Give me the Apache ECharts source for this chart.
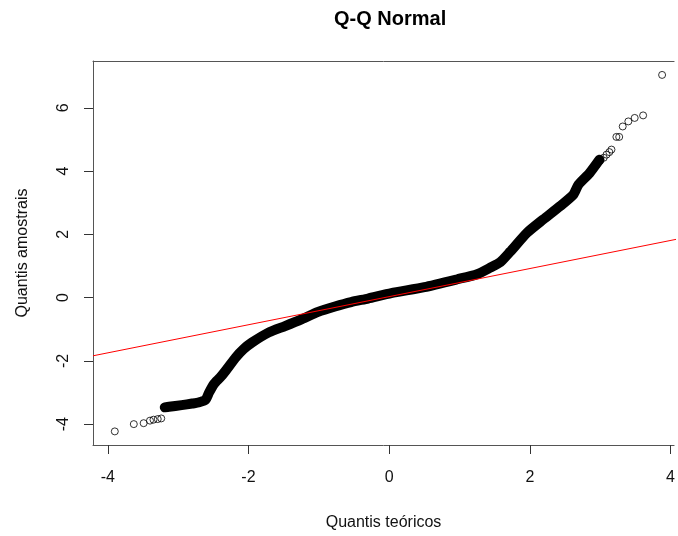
<!DOCTYPE html>
<html>
<head>
<meta charset="utf-8">
<script src="https://cdn.jsdelivr.net/npm/echarts@6/dist/echarts.min.js"></script>
<style>
html,body{margin:0;padding:0;background:#fff;}
#chart{width:678px;height:536px;}
</style>
</head>
<body>
<div id="chart"></div>
<script>
// Dense band of points (theoretical quantile, sample quantile)
const bandX = [-3.19,-3.13,-2.95,-2.80,-2.70,-2.61,-2.56,-2.49,-2.40,-2.32,-2.18,-2.07,-1.95,-1.71,-1.48,-1.24,-1.01,-0.77,-0.54,-0.30,0.03,0.50,0.97,1.25,1.44,1.58,1.72,1.96,2.19,2.43,2.62,2.69,2.85,2.99];
const bandY = [-3.47,-3.45,-3.40,-3.35,-3.31,-3.23,-3.00,-2.73,-2.52,-2.30,-1.89,-1.63,-1.42,-1.10,-0.90,-0.68,-0.45,-0.28,-0.14,-0.03,0.14,0.33,0.58,0.74,0.95,1.12,1.45,2.05,2.47,2.89,3.26,3.57,3.94,4.36];

// Individually visible points (tails)
const tailX = [-3.90,-3.63,-3.49,-3.40,-3.35,-3.29,-3.24,-3.19,-3.14,2.85,2.90,2.95,3.00,3.05,3.09,3.13,3.16,3.23,3.27,3.32,3.40,3.49,3.61,3.88];
const tailY = [-4.23,-4.00,-3.97,-3.89,-3.86,-3.84,-3.82,-3.47,-3.45,3.94,4.05,4.20,4.33,4.42,4.52,4.60,4.68,5.08,5.08,5.41,5.57,5.68,5.76,7.04];

// Reference line (qqline) endpoints
const refX = [-4.21, 4.21];
const refY = [-1.84, 1.90];

const xTicks = [-4,-2,0,2,4];
const yTicks = [-4,-2,0,2,4,6];

const zip = (a,b) => a.map((v,i) => [v,b[i]]);
const font = 'Liberation Sans, Arial, sans-serif';
const XMIN = -4.21, XMAX = 4.05;
const boxLine = {show:true, onZero:false, lineStyle:{color:'#555', width:1}};

const chart = echarts.init(document.getElementById('chart'), null, {renderer:'canvas'});
chart.setOption({
  backgroundColor:'#fff',
  animation:false,
  title:{
    text:'Q-Q Normal', left:329, top:4,
    textStyle:{fontFamily:font, fontSize:20, fontWeight:'bold', color:'#000'}
  },
  grid:{left:93, top:61, bottom:90, right:0, show:false},
  xAxis:[{
    type:'value', min:XMIN, max:XMAX, position:'bottom',
    name:'Quantis teóricos', nameLocation:'middle', nameGap:70,
    nameTextStyle:{fontFamily:font, fontSize:16, color:'#111'},
    axisLine:boxLine,
    splitLine:{show:false},
    axisTick:{show:true, inside:false, length:9, customValues:xTicks, lineStyle:{color:'#333'}},
    axisLabel:{customValues:xTicks, fontFamily:font, fontSize:16, color:'#111', margin:25, showMaxLabel:true}
  },{
    type:'value', min:XMIN, max:XMAX, position:'top',
    axisLine:boxLine, axisTick:{show:false}, axisLabel:{show:false}, splitLine:{show:false}
  }],
  yAxis:{
    type:'value', min:-4.66, max:7.48, position:'left',
    name:'Quantis amostrais', nameLocation:'middle', nameGap:62, nameRotate:90,
    nameTextStyle:{fontFamily:font, fontSize:16, color:'#111'},
    axisLine:boxLine,
    splitLine:{show:false},
    axisTick:{show:true, inside:false, length:9, customValues:yTicks, lineStyle:{color:'#333'}},
    axisLabel:{customValues:yTicks, rotate:90, fontFamily:font, fontSize:16, color:'#111', margin:21}
  },
  series:[
    {
      type:'line', data:zip(bandX,bandY), showSymbol:false, symbol:'none', smooth:0.2,
      lineStyle:{color:'#000', width:10, cap:'round', join:'round'}, silent:true
    },
    {
      type:'scatter', data:zip(tailX,tailY), symbol:'circle', symbolSize:7,
      itemStyle:{color:'rgba(0,0,0,0)', borderColor:'#000', borderWidth:1}
    },
    {
      type:'line', data:zip(refX,refY), showSymbol:false, symbol:'none', clip:true,
      lineStyle:{color:'#ff0000', width:1}
    }
  ]
});
</script>
</body>
</html>
